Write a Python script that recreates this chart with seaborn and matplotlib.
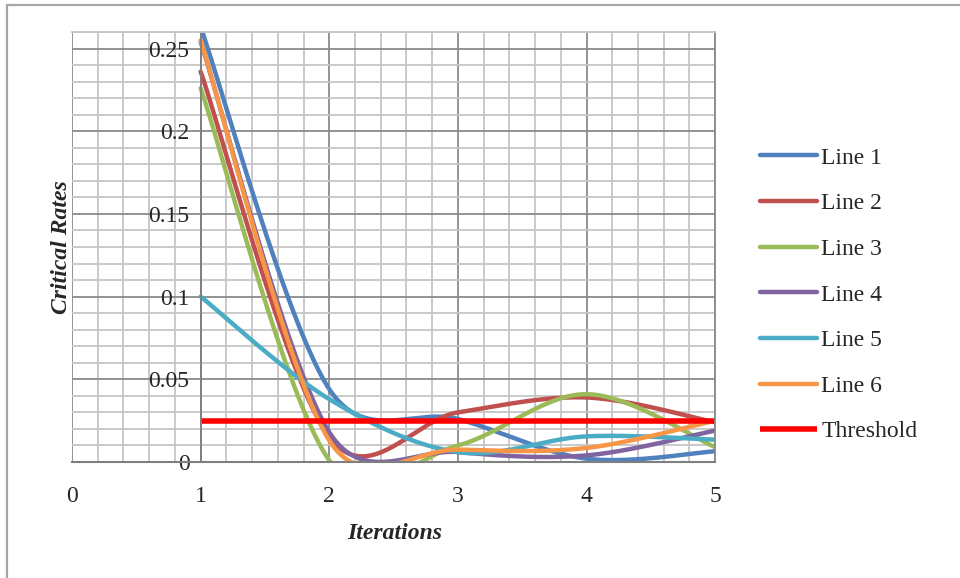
import numpy as np
import pandas as pd
import seaborn as sns
import matplotlib
matplotlib.use("Agg")
import matplotlib.pyplot as plt
from matplotlib.lines import Line2D
from matplotlib.ticker import MultipleLocator, FixedLocator

# data
iterations = [1, 2, 3, 4, 5]
line1 = [0.263, 0.044, 0.026, 0.002, 0.0065]
line2 = [0.236, 0.015, 0.030, 0.039, 0.024]
line3 = [0.226, 0.001, 0.010, 0.041, 0.009]
line4 = [0.254, 0.018, 0.006, 0.004, 0.019]
line5 = [0.100, 0.038, 0.006, 0.0155, 0.0135]
line6 = [0.255, 0.013, 0.0075, 0.0085, 0.025]
threshold = [0.025, 0.025, 0.025, 0.025, 0.025]

series_names = ["Line 1", "Line 2", "Line 3", "Line 4", "Line 5", "Line 6"]
series_values = [line1, line2, line3, line4, line5, line6]
series_colors = ["#4F81BD", "#C0504D", "#9BBB59", "#8064A2", "#4BACC6", "#F79646"]

yticks = [0, 0.05, 0.1, 0.15, 0.2, 0.25]
ytick_labels = ["0", "0.05", "0.1", "0.15", "0.2", "0.25"]
xticks = [0, 1, 2, 3, 4, 5]

sns.set_style("white")
plt.rcParams["font.family"] = ["Liberation Serif", "DejaVu Serif"]

fig = plt.figure(figsize=(9.6, 5.78), dpi=100)
ax = fig.add_axes([0.075, 0.2007, 0.67, 0.744])
ax.set_xlim(0, 5)
ax.set_ylim(0, 0.26)


def excel_smooth(xs, ys, sx, sy, n=60):
    # Excel style "smoothed line": bezier segments in screen space
    P = np.column_stack([np.asarray(xs, float) * sx, np.asarray(ys, float) * sy])
    pts = []
    for i in range(len(P) - 1):
        p0 = P[i - 1] if i > 0 else P[i]
        p1, p2 = P[i], P[i + 1]
        p3 = P[i + 2] if i + 2 < len(P) else P[i + 1]
        d02 = np.linalg.norm(p2 - p0)
        d12 = np.linalg.norm(p2 - p1)
        d13 = np.linalg.norm(p3 - p1)
        f1 = 1 / 6 if d02 / 6 < d12 / 2 else d12 / (2 * d02)
        f2 = 1 / 6 if d13 / 6 < d12 / 2 else d12 / (2 * d13)
        c1 = p1 + f1 * (p2 - p0)
        c2 = p2 - f2 * (p3 - p1)
        t = np.linspace(0, 1, n)[:, None]
        seg = (1 - t) ** 3 * p1 + 3 * (1 - t) ** 2 * t * c1 + 3 * (1 - t) * t ** 2 * c2 + t ** 3 * p2
        pts.append(seg if i == 0 else seg[1:])
    pts = np.vstack(pts)
    return pts[:, 0] / sx, pts[:, 1] / sy


# pixels per data unit, so smoothing behaves like on screen
bbox = ax.get_position()
sx = bbox.width * 960 / 5
sy = bbox.height * 578 / 0.26

for name, vals, col in zip(series_names, series_values, series_colors):
    xs, ys = excel_smooth(iterations, vals, sx, sy)
    df = pd.DataFrame({"x": xs, "y": ys})
    sns.lineplot(data=df, x="x", y="y", color=col, linewidth=3.2, sort=False,
                 estimator=None, label=name, ax=ax, solid_capstyle="round")

sns.lineplot(x=iterations, y=threshold, color="#FF0000", linewidth=4, sort=False,
             estimator=None, label="Threshold", ax=ax, solid_capstyle="butt")

# grid like Excel
ax.set_axisbelow(True)
ax.xaxis.set_major_locator(FixedLocator(xticks))
ax.yaxis.set_major_locator(FixedLocator(yticks))
ax.xaxis.set_minor_locator(MultipleLocator(0.2))
ax.yaxis.set_minor_locator(FixedLocator(np.round(np.arange(0, 0.2601, 0.01), 3)))
ax.grid(which="major", color="#8a8a8a", linewidth=1.3)
ax.grid(which="minor", color="#c6c6c6", linewidth=1.3)

ax.set_yticks(yticks)
ax.set_yticklabels(ytick_labels)
ax.set_xticks(xticks)
ax.set_xticklabels([str(v) for v in xticks])
ax.tick_params(axis="y", which="both", length=0, pad=8, labelsize=17)
ax.tick_params(axis="x", which="major", length=5, width=1.3, color="#8a8a8a",
               pad=12, labelsize=17)
ax.tick_params(axis="x", which="minor", length=0)

ax.spines["left"].set_position(("data", 1))
ax.spines["left"].set_color("#7f7f7f")
ax.spines["left"].set_linewidth(1.3)
ax.spines["bottom"].set_color("#7f7f7f")
ax.spines["bottom"].set_linewidth(1.5)
ax.spines["top"].set_color("#c6c6c6")
ax.spines["top"].set_linewidth(1.3)
ax.spines["right"].set_color("#8a8a8a")
ax.spines["right"].set_linewidth(1.3)

ax.set_xlabel("Iterations", fontsize=17, fontweight="bold", fontstyle="italic")
ax.set_ylabel("Critical Rates", fontsize=17, fontweight="bold", fontstyle="italic")
ax.xaxis.set_label_coords(0.502, -0.143)
ax.yaxis.set_label_coords(0.0, 0.5)

handles, labels = ax.get_legend_handles_labels()
ax.legend(handles, labels, loc="center left", bbox_to_anchor=(760 / 960, 0.49),
          bbox_transform=fig.transFigure, frameon=False, fontsize=17,
          handlelength=2.4, handletextpad=0.2, labelspacing=1.02, borderpad=0,
          borderaxespad=0)

# outer chart frame (runs off the right and bottom edges)
fig.add_artist(Line2D([7 / 960, 1], [1 - 5 / 578, 1 - 5 / 578], color="#a6a6a6", lw=1.6))
fig.add_artist(Line2D([7 / 960, 7 / 960], [0, 1 - 5 / 578], color="#a6a6a6", lw=1.6))

fig.savefig("out.png", dpi=100)
